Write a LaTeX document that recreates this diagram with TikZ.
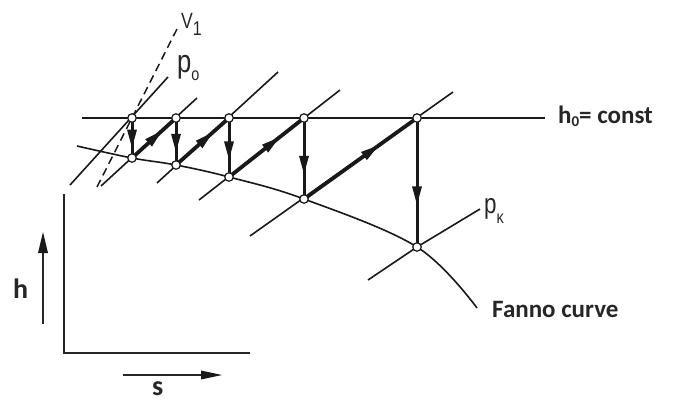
\documentclass[tikz,border=0pt]{standalone}
\usepackage{fontspec}
\setmainfont{Carlito}
\newfontfamily\hand[FakeStretch=0.8]{Liberation Sans}
\usetikzlibrary{arrows.meta,calc}
\begin{document}
\begin{tikzpicture}[x=1pt,y=-1pt,
  thinline/.style={line width=1.6pt, black!90},
  dashline/.style={line width=1.5pt, black!90, dash pattern=on 8pt off 5pt},
  boldline/.style={line width=3.8pt, black!90},
  dropline/.style={line width=3pt, black!90},
  headfill/.style={fill=black!90},
  axisline/.style={line width=1.9pt, black!85},
  statept/.style={circle, draw=black!90, fill=white, inner sep=0pt, minimum size=8.5pt, line width=1.2pt},
  boldlbl/.style={font=\bfseries\fontsize{25}{28}\selectfont, text=black!85, inner sep=0pt},
  handlbl/.style={text=black!85, inner sep=0pt}]
\useasboundingbox (0,0) rectangle (680,399);

% state points
\coordinate (t1) at (132,118);
\coordinate (t2) at (176,118);
\coordinate (t3) at (229,118);
\coordinate (t4) at (304,118);
\coordinate (t5) at (417,118);
\coordinate (b1) at (132,158);
\coordinate (b2) at (176,165);
\coordinate (b3) at (229,177);
\coordinate (b4) at (304,199);
\coordinate (b5) at (417,247);

% line end points
\coordinate (h0a) at (82,118);
\coordinate (h0b) at (545,118);
\coordinate (p0a) at (70,185);
\coordinate (p0b) at (168,77);
\coordinate (L1a) at (101,186);
\coordinate (L1b) at (197,98);
\coordinate (L2a) at (157,183);
\coordinate (L2b) at (278,72);
\coordinate (L3a) at (199,200);
\coordinate (L3b) at (340,90);
\coordinate (L4a) at (250,236);
\coordinate (L4b) at (453,92);
\coordinate (L5a) at (368,280);
\coordinate (L5b) at (480,209);
\coordinate (v1a) at (97,187);
\coordinate (v1b) at (178,27);

% h0 = const line
\draw[thinline] (h0a) -- (h0b);
% Fanno curve
\draw[thinline] plot[smooth, tension=0.6] coordinates {(77,146) (132,158) (176,165) (229,177) (304,199) (417,247) (477,308)};
% isobars
\draw[thinline] (p0a) -- (p0b);
\draw[thinline] (L1a) -- (L1b);
\draw[thinline] (L2a) -- (L2b);
\draw[thinline] (L3a) -- (L3b);
\draw[thinline] (L4a) -- (L4b);
\draw[thinline] (L5a) -- (b5) -- (L5b);
% v1 dashed
\draw[dashline] (v1a) -- (v1b);

% process lines
\foreach \a/\b in {t1/b1,t2/b2,t3/b3,t4/b4,t5/b5}
  \draw[dropline] (\a) -- (\b);
\foreach \a/\b in {b1/t2,b2/t3,b3/t4,b4/t5}
  \draw[boldline] (\a) -- (\b);
% arrow heads
\foreach \a/\b/\f in {t1/b1/0.74,t2/b2/0.72,t3/b3/0.70,t4/b4/0.69,t5/b5/0.67,b1/t2/0.68,b2/t3/0.69,b3/t4/0.67,b4/t5/0.66}{
  \coordinate (tip) at ($(\a)!\f!(\b)$);
  \coordinate (bs) at ($(tip)!18pt!(\a)$);
  \fill[headfill] ($(bs)!5pt!90:(tip)$) -- (tip) -- ($(bs)!5pt!-90:(tip)$) -- cycle;
}

% circles
\foreach \p in {t1,t2,t3,t4,t5,b1,b2,b3,b4,b5}
  \node[statept] (n\p) at (\p) {};

% labels
\node[handlbl, anchor=base west] (lv1) at (181,28) {\hand\fontsize{22}{24}\selectfont V\raisebox{-7pt}{\fontsize{20}{20}\selectfont 1}};
\node[handlbl, anchor=base west] (lp0) at (177,72) {\hand\fontsize{32}{34}\selectfont p\raisebox{-8pt}{\fontsize{18}{18}\selectfont o}};
\node[handlbl, anchor=base west] (lpk) at (484,213) {\hand\fontsize{28}{30}\selectfont p\raisebox{-10pt}{\fontsize{18}{18}\selectfont κ}};
\node[boldlbl, anchor=base west] (lh0) at (558,123) {h\raisebox{-3pt}{\fontsize{15}{15}\selectfont 0}= const};
\node[boldlbl, anchor=base west] (lfc) at (492,317) {Fanno curve};

% axes
\coordinate (ax0) at (64,353);
\coordinate (axy) at (64,194);
\coordinate (axx) at (250,353);
\draw[axisline] (axy) -- (ax0) -- (axx);
\coordinate (ha) at (43,324);
\coordinate (hb) at (43,232);
\coordinate (hbs) at (43,253);
\draw[axisline] (ha) -- (hbs);
\fill[headfill] ($(hbs)+(-5,0)$) -- (hb) -- ($(hbs)+(5,0)$) -- cycle;
\coordinate (sa) at (123,375);
\coordinate (sb) at (222,375);
\coordinate (sbs) at (201,375);
\draw[axisline] (sa) -- (sbs);
\fill[headfill] ($(sbs)+(0,-4.5)$) -- (sb) -- ($(sbs)+(0,4.5)$) -- cycle;
\node[boldlbl, font=\bfseries\fontsize{28}{30}\selectfont, anchor=base west] (lh) at (13,298) {h};
\node[boldlbl, font=\bfseries\fontsize{28}{30}\selectfont, anchor=base west] (ls) at (152,395) {s};
\end{tikzpicture}
\end{document}
